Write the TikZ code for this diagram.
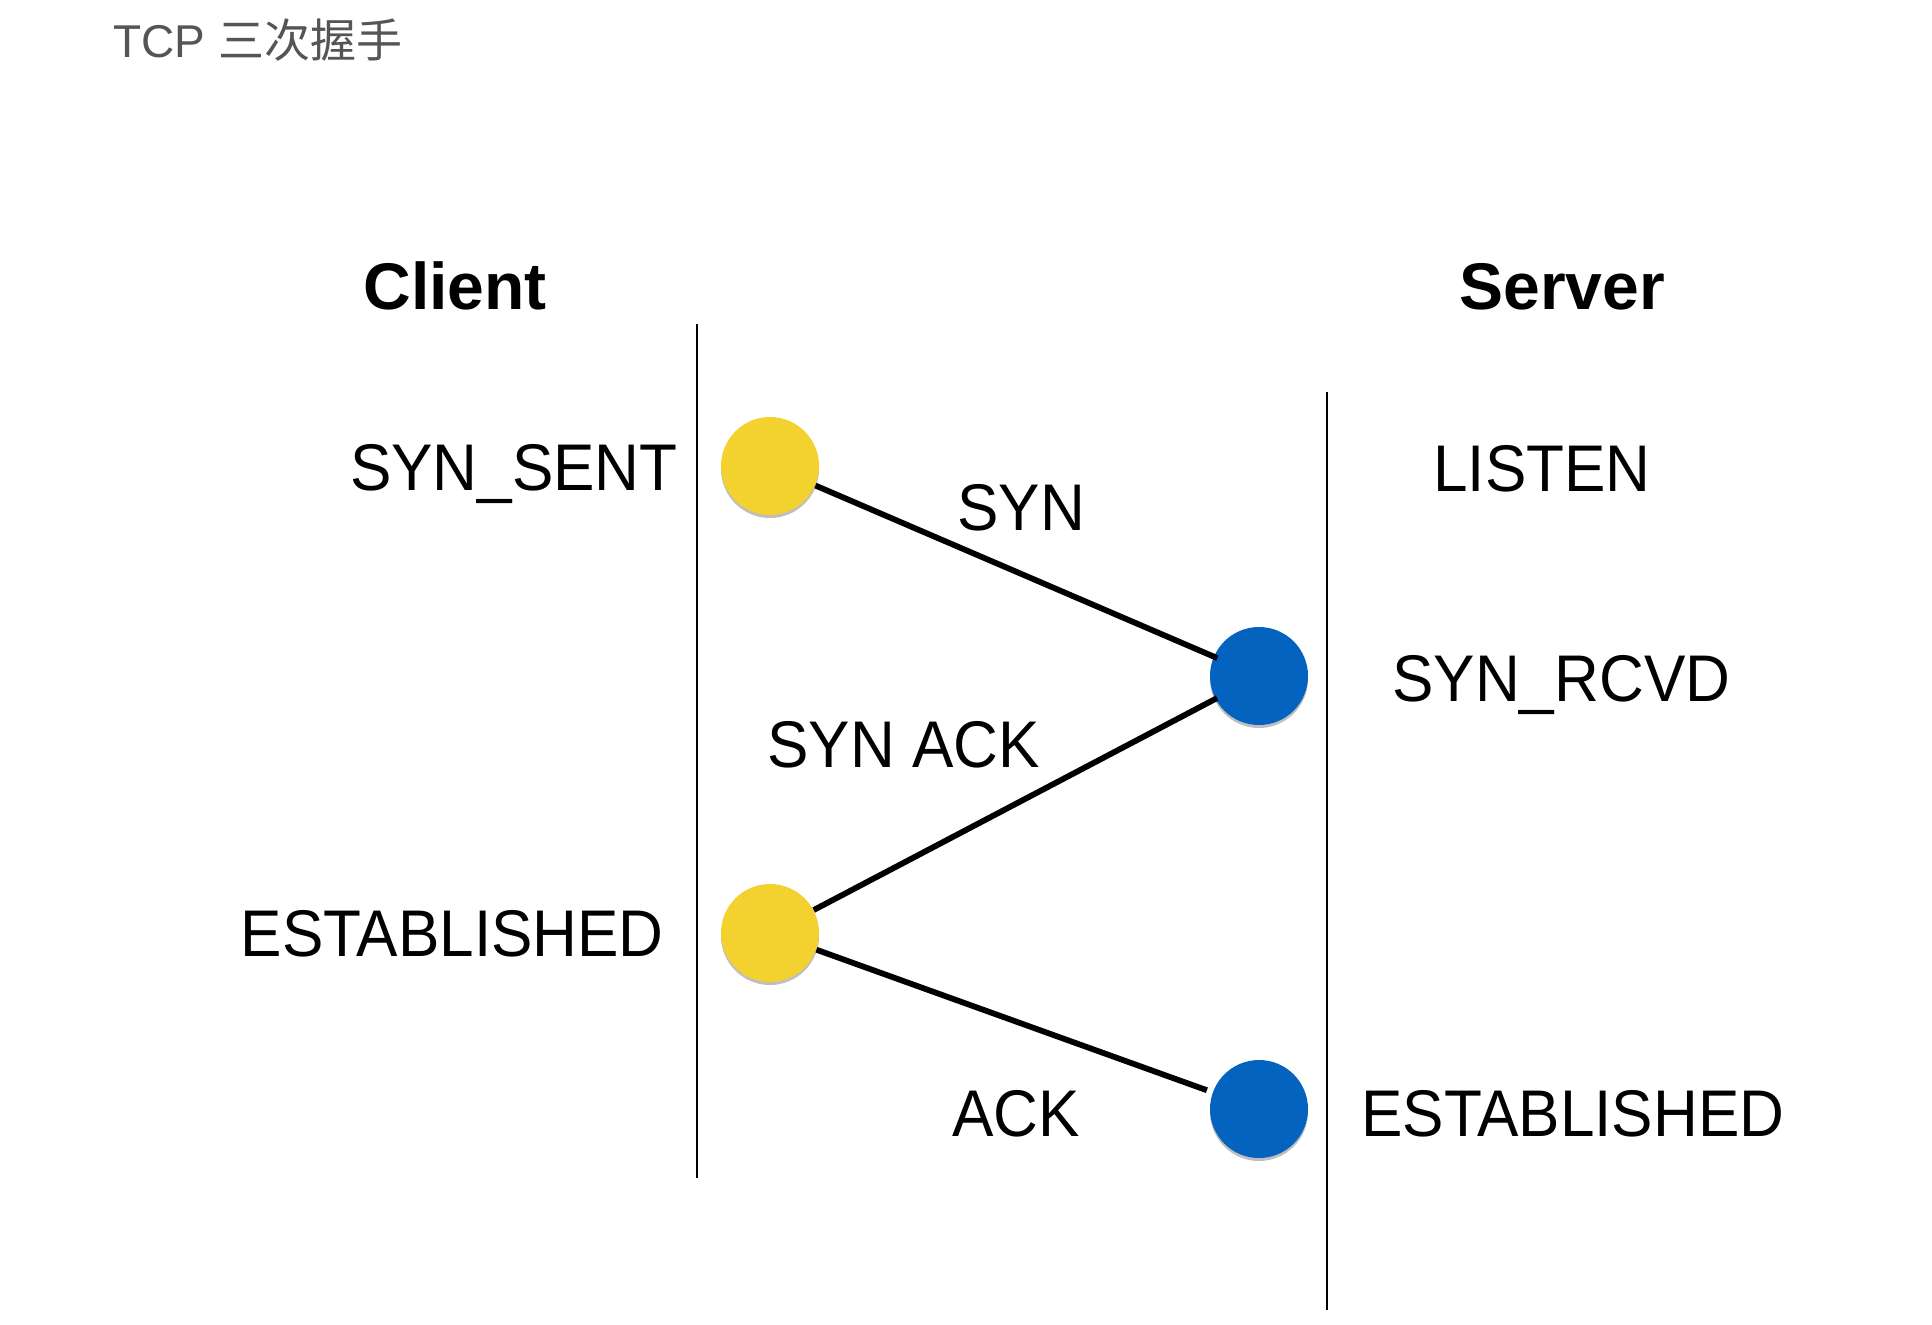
\documentclass[tikz,border=0pt]{standalone}
\usepackage{fontspec}
\setmainfont{Liberation Sans}
\newfontfamily\lblfont[FakeStretch=0.94]{Liberation Sans}
\newfontfamily\cjkfont{Noto Sans CJK SC}
\usetikzlibrary{shadows}
\definecolor{dotyellow}{HTML}{F3D12E}
\definecolor{dotblue}{HTML}{0563C0}
\definecolor{titlegray}{HTML}{555555}
\tikzset{
  lbl/.style={inner sep=0pt, font=\lblfont\fontsize{33}{40}\selectfont, text=black},
  head/.style={inner sep=0pt, font=\bfseries\fontsize{33}{40}\selectfont, text=black},
  dot/.style={circle, inner sep=0pt, minimum size=49pt,
    drop shadow={shadow xshift=0pt, shadow yshift=-1.5pt, opacity=0.25, fill=black}},
  ydot/.style={dot, fill=dotyellow},
  bdot/.style={dot, fill=dotblue},
  lifeline/.style={line width=1.3pt, draw=black},
  msg/.style={line width=2.9pt, draw=black, line cap=butt}
}
\begin{document}
\begin{tikzpicture}[x=0.5pt, y=-0.5pt]
\useasboundingbox (0,0) rectangle (1932,1324);
\fill[white] (0,0) rectangle (1932,1324);

% title
\node[inner sep=0pt, anchor=base west, text=titlegray, font=\fontsize{23}{28}\selectfont] (title) at (113,57) {TCP {\cjkfont 三次握手}};

% headers
\node[head, anchor=base west] (client) at (363,309) {Client};
\node[head, anchor=base west] (server) at (1459,309) {Server};

% lifelines
\coordinate (ltop) at (697,324);
\coordinate (lbot) at (697,1178);
\coordinate (rtop) at (1327,392);
\coordinate (rbot) at (1327,1310);
\draw[lifeline] (ltop) -- (lbot);
\draw[lifeline] (rtop) -- (rbot);

% dots
\node[ydot] (y1) at (770,466) {};
\node[bdot] (b1) at (1259,676) {};
\node[ydot] (y2) at (770,933) {};
\node[bdot] (b2) at (1259,1109) {};

% messages
\draw[msg, shorten >=-2pt] (y1) -- (b1);
\draw[msg, shorten >=-1pt] (y2) -- (b1);
\draw[msg, shorten >=3pt] (y2) -- (b2);

% state labels
\node[lbl, anchor=base east] (synsent) at (678,490) {SYN\_SENT};
\node[lbl, anchor=base east] (estl) at (664,956) {ESTABLISHED};
\node[lbl, anchor=base west] (listen) at (1433,491) {LISTEN};
\node[lbl, anchor=base west] (synrcvd) at (1392,701) {SYN\_RCVD};
\node[lbl, anchor=base west] (estr) at (1361,1136) {ESTABLISHED};

% message labels
\node[lbl, anchor=base west] (lsyn) at (957,530) {SYN};
\node[lbl, anchor=base west] (lsynack) at (767,767) {SYN ACK};
\node[lbl, anchor=base west] (lack) at (952,1136) {ACK};
\end{tikzpicture}
\end{document}
